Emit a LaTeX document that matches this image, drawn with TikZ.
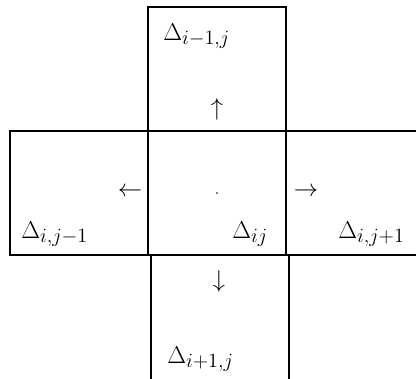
\documentclass[tikz,border=0pt]{standalone}
\usepackage{amsmath}
\usepackage{tikz}
\usetikzlibrary{positioning}
\DeclareMathSizes{17}{17}{14.5}{11}

\tikzset{
  cell/.style={draw, line width=1pt, minimum width=3.45cm, minimum height=3.1cm,
    outer sep=0pt, inner sep=0pt},
  lbl/.style={anchor=base west, inner sep=0pt, font=\fontsize{17}{20}\selectfont},
  pointer/.style={inner sep=0pt, font=\fontsize{17}{20}\selectfont}
}

\begin{document}
\begin{tikzpicture}[x=0.025cm, y=-0.025cm]
    \useasboundingbox (0,0) rectangle (416,378);
    \clip (0,0) rectangle (416,378);

    % the cell and its four neighbours
    \node[cell] (mid) at (217,193) {};
    \node[cell, above=0pt of mid] (up) {};
    \node[cell, minimum height=3.4cm, below=0pt of mid, xshift=3*0.025cm] (down) {};
    \node[cell, left=0pt of mid] (left) {};
    \node[cell, right=0pt of mid] (right) {};

    % labels
    \node[lbl] (lup) at (163,40) {$\Delta_{i-1,j}$};
    \node[lbl] (lleft) at (21,238) {$\Delta_{i,j-1}$};
    \node[lbl] (lmid) at (232,238) {$\Delta_{ij}$};
    \node[lbl] (lright) at (338,238) {$\Delta_{i,j+1}$};
    \node[lbl] (ldown) at (167,363) {$\Delta_{i+1,j}$};

    % centre point and directions
    \fill (mid.center) circle (0.6pt);
    \node[pointer] (pup) at (217,109) {$\uparrow$};
    \node[pointer] (pleft) at (130,192) {$\leftarrow$};
    \node[pointer] (pright) at (306,192) {$\rightarrow$};
    \node[pointer] (pdown) at (219,281) {$\downarrow$};
\end{tikzpicture}
\end{document}
